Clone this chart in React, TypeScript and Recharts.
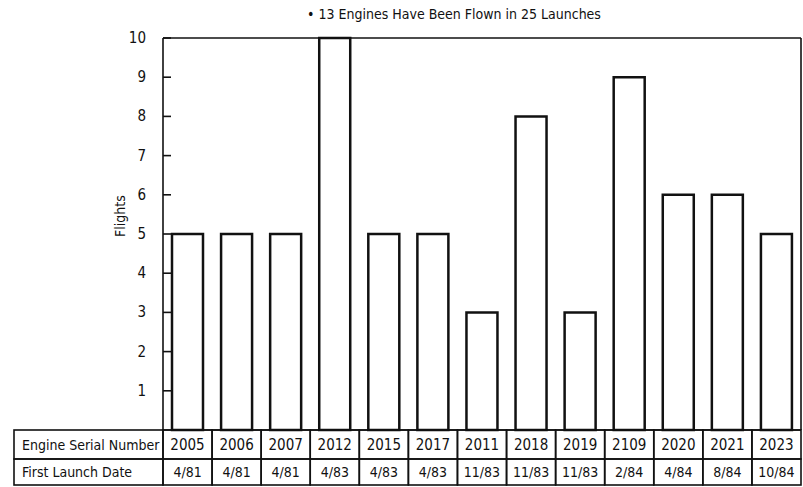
import React from 'react';
import { BarChart, Bar, XAxis, YAxis } from 'recharts';

const serials = ['2005', '2006', '2007', '2012', '2015', '2017', '2011', '2018', '2019', '2109', '2020', '2021', '2023'];
const flights = [5, 5, 5, 10, 5, 5, 3, 8, 3, 9, 6, 6, 5];
const launchDates = ['4/81', '4/81', '4/81', '4/83', '4/83', '4/83', '11/83', '11/83', '11/83', '2/84', '4/84', '8/84', '10/84'];
const yTicks = [1, 2, 3, 4, 5, 6, 7, 8, 9, 10];
const rowHeaders = ['Engine Serial Number', 'First Launch Date'];
const title = '\u2022 13 Engines Have Been Flown in 25 Launches';

const data = serials.map((s, i) => ({ serial: s, flights: flights[i], date: launchDates[i] }));

const FONT = '"DejaVu Sans Condensed", "Liberation Sans Narrow", "Roboto", sans-serif';
const TABLE_LEFT = 14;
const ROW1 = 29;
const ROW2 = 26;

const TableTick = (props: any) => {
  const { x, y, payload, index } = props;
  const count = props.visibleTicksCount || serials.length;
  const cw = props.width ? props.width / count : 49;
  const i = serials.indexOf(payload.value);
  const left = x - cw / 2;
  const stroke = '#111';
  const sw = 1.6;
  return (
    <g>
      {index === 0 && (
        <g>
          <rect x={TABLE_LEFT} y={y} width={left - TABLE_LEFT} height={ROW1} fill="none" stroke={stroke} strokeWidth={sw} />
          <rect x={TABLE_LEFT} y={y + ROW1} width={left - TABLE_LEFT} height={ROW2} fill="none" stroke={stroke} strokeWidth={sw} />
          <text x={TABLE_LEFT + 8} y={y + 20} fontSize={14} fontFamily={FONT} fill="#111">{rowHeaders[0]}</text>
          <text x={TABLE_LEFT + 8} y={y + ROW1 + 18} fontSize={14} fontFamily={FONT} fill="#111">{rowHeaders[1]}</text>
        </g>
      )}
      <rect x={left} y={y} width={cw} height={ROW1} fill="none" stroke={stroke} strokeWidth={sw} />
      <rect x={left} y={y + ROW1} width={cw} height={ROW2} fill="none" stroke={stroke} strokeWidth={sw} />
      <text x={x} y={y + 20} textAnchor="middle" fontSize={15} fontFamily={FONT} fill="#111">{payload.value}</text>
      <text x={x} y={y + ROW1 + 18} textAnchor="middle" fontSize={14} fontFamily={FONT} fill="#111">{launchDates[i]}</text>
    </g>
  );
};

const YTick = (props: any) => {
  const { x, y, payload } = props;
  return (
    <g>
      <line x1={x} y1={y} x2={x + 8} y2={y} stroke="#111" strokeWidth={1.6} />
      <text x={x - 17} y={y + 5} textAnchor="end" fontSize={15} fontFamily={FONT} fill="#111">{payload.value}</text>
    </g>
  );
};

const FlightsLabel = (props: any) => {
  const vb = props.viewBox || { x: 0, y: 38, width: 163, height: 392 };
  const cx = vb.x + vb.width - 43;
  const cy = vb.y + vb.height / 2 - 18;
  return (
    <text
      x={cx}
      y={cy}
      transform={`rotate(-90 ${cx} ${cy})`}
      textAnchor="middle"
      dominantBaseline="central"
      fontSize={14}
      fontFamily={FONT}
      fill="#111"
    >
      Flights
    </text>
  );
};

export default function App() {
  return (
    <div style={{ position: 'absolute', left: 0, top: 0, width: 803, height: 487, background: '#fff' }}>
      <div
        style={{
          position: 'absolute',
          left: 0,
          width: 908,
          top: 6,
          textAlign: 'center',
          fontFamily: FONT,
          fontSize: 14,
          color: '#111',
          whiteSpace: 'nowrap',
        }}
      >
        {title}
      </div>
      <BarChart
        width={803}
        height={487}
        data={data}
        margin={{ top: 37, right: 1, bottom: 0, left: 0 }}
        barSize={31}
      >
        <XAxis
          dataKey="serial"
          height={57}
          axisLine={{ stroke: '#111', strokeWidth: 1.6 }}
          tickLine={false}
          tickSize={0}
          tickMargin={0}
          interval={0}
          tick={<TableTick />}
        />
        <XAxis
          xAxisId="top"
          dataKey="serial"
          orientation="top"
          height={1}
          axisLine={{ stroke: '#111', strokeWidth: 1.6 }}
          tick={false}
          tickLine={false}
        />
        <YAxis
          width={163}
          domain={[0, 10]}
          ticks={yTicks}
          interval={0}
          axisLine={{ stroke: '#111', strokeWidth: 1.6 }}
          tickLine={false}
          tickSize={0}
          tickMargin={0}
          tick={<YTick />}
          label={<FlightsLabel />}
        />
        <YAxis
          yAxisId="right"
          orientation="right"
          width={1}
          domain={[0, 10]}
          axisLine={{ stroke: '#111', strokeWidth: 1.6 }}
          tick={false}
          tickLine={false}
        />
        <Bar dataKey="flights" fill="#fff" stroke="#111" strokeWidth={2.5} isAnimationActive={false} />
      </BarChart>
    </div>
  );
}
